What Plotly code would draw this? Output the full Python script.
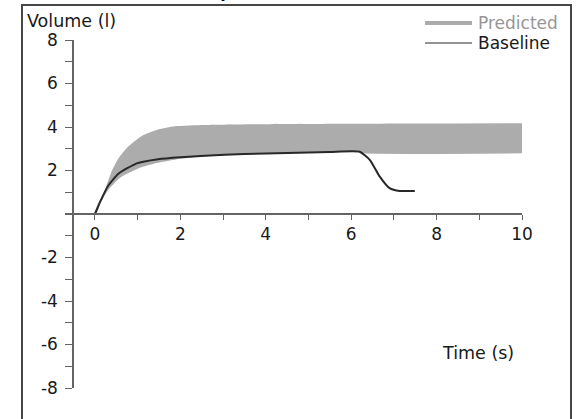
import plotly.graph_objects as go

# ---- data ----
baseline_time = [0, 0.12, 0.31, 0.55, 0.98, 1.48, 2.0, 2.58, 3.5, 4.5, 5.5, 6.2, 6.44, 6.67, 6.9, 7.14, 7.49]
baseline_vol = [0, 0.55, 1.3, 1.85, 2.33, 2.52, 2.61, 2.68, 2.76, 2.81, 2.85, 2.86, 2.48, 1.72, 1.19, 1.06, 1.06]

band_upper_time = [0, 0.04, 0.23, 0.39, 0.55, 0.78, 1.09, 1.48, 1.87, 2.58, 4, 6, 8, 10]
band_upper_vol = [0, 0.03, 1.05, 1.95, 2.55, 3.1, 3.58, 3.88, 4.03, 4.09, 4.13, 4.15, 4.16, 4.17]

band_lower_time = [0, 0.12, 0.31, 0.55, 0.7, 1.09, 1.48, 1.87, 2.5, 3.5, 4.5, 5.5, 6.2, 6.3, 10]
band_lower_vol = [0, 0.45, 1.1, 1.6, 1.8, 2.15, 2.36, 2.5, 2.64, 2.76, 2.81, 2.84, 2.84, 2.79, 2.79]

series_names = ["Predicted", "Baseline"]
x_tick_vals = list(range(0, 11))
x_tick_text = [str(v) if v % 2 == 0 else "" for v in x_tick_vals]
y_tick_vals = list(range(-8, 9))
y_tick_text = [str(v) if (v % 2 == 0 and v != 0) else "" for v in y_tick_vals]

title_text = "Best Volume-Time Graph"
y_title = "Volume (l)"
x_title = "Time (s)"

# ---- layout geometry (pixels) ----
W, H = 577, 419
L, R, T, B = 65, 522, 40, 388  # plot area edges


def px(xp):
    return (xp - L) / (R - L)


def py(yp):
    return (B - yp) / (B - T)


FONT = "DejaVu Sans"
TEXT = "rgb(25,25,25)"
band_color = "rgb(172,172,172)"
line_color = "rgb(40,40,40)"
axis_color = "rgb(100,100,100)"

fig = go.Figure()
fig.add_trace(go.Scatter(x=band_lower_time, y=band_lower_vol, mode="lines",
                         line=dict(width=0, shape="spline", smoothing=0.6),
                         showlegend=False, hoverinfo="skip"))
fig.add_trace(go.Scatter(x=band_upper_time, y=band_upper_vol, mode="lines",
                         line=dict(width=0, shape="spline", smoothing=0.6),
                         fill="tonexty", fillcolor=band_color,
                         name=series_names[0], showlegend=False))
fig.add_trace(go.Scatter(x=baseline_time, y=baseline_vol, mode="lines",
                         line=dict(color=line_color, width=2, shape="spline", smoothing=0.5),
                         name=series_names[1], showlegend=False))

fig.update_layout(
    width=W, height=H,
    margin=dict(l=L, r=W - R, t=T, b=H - B),
    paper_bgcolor="white", plot_bgcolor="white",
    font=dict(family=FONT, size=17, color=TEXT),
    xaxis=dict(range=[-0.7, 10], anchor="free", position=0.5,
               showgrid=False, zeroline=False, showline=True,
               linecolor=axis_color, linewidth=1.5,
               tickmode="array", tickvals=x_tick_vals, ticktext=x_tick_text,
               ticks="outside", ticklen=5, tickwidth=1.2, tickcolor=axis_color,
               tickfont=dict(family=FONT, size=17, color=TEXT)),
    yaxis=dict(range=[-8, 8], anchor="free", position=px(73),
               showgrid=False, zeroline=False, showline=True,
               linecolor=axis_color, linewidth=1.5,
               tickmode="array", tickvals=y_tick_vals, ticktext=y_tick_text,
               ticks="outside", ticklen=7, tickwidth=1.2, tickcolor=axis_color,
               ticklabelstandoff=4,
               tickfont=dict(family=FONT, size=17, color=TEXT)),
    showlegend=False,
)

shapes = [
    # outer frame
    dict(type="rect", xref="paper", yref="paper",
         x0=px(22), x1=px(571), y0=py(440), y1=py(5),
         line=dict(color="rgb(70,70,70)", width=2), fillcolor="rgba(0,0,0,0)", layer="below"),
    # legend swatches
    dict(type="line", xref="paper", yref="paper",
         x0=px(425), x1=px(472), y0=py(23), y1=py(23),
         line=dict(color=band_color, width=4)),
    dict(type="line", xref="paper", yref="paper",
         x0=px(425), x1=px(472), y0=py(43), y1=py(43),
         line=dict(color=line_color, width=1.2)),
]

annotations = [
    dict(text="<b>" + title_text + "</b>", xref="paper", yref="paper",
         x=px(20), y=py(4), xanchor="left", yanchor="bottom", showarrow=False,
         font=dict(family=FONT, size=16, color="black")),
    dict(text=y_title, xref="paper", yref="paper", x=px(25), y=py(21),
         xanchor="left", yanchor="middle", showarrow=False,
         font=dict(family=FONT, size=17.5, color=TEXT)),
    dict(text=x_title, xref="paper", yref="paper", x=px(440), y=py(353),
         xanchor="left", yanchor="middle", showarrow=False,
         font=dict(family=FONT, size=17.5, color=TEXT)),
    dict(text=series_names[0], xref="paper", yref="paper", x=px(476), y=py(23),
         xanchor="left", yanchor="middle", showarrow=False,
         font=dict(family=FONT, size=17, color="rgb(150,150,150)")),
    dict(text=series_names[1], xref="paper", yref="paper", x=px(476), y=py(43),
         xanchor="left", yanchor="middle", showarrow=False,
         font=dict(family=FONT, size=17, color=TEXT)),
]

fig.update_layout(shapes=shapes, annotations=annotations)
fig.write_html("out.html")
